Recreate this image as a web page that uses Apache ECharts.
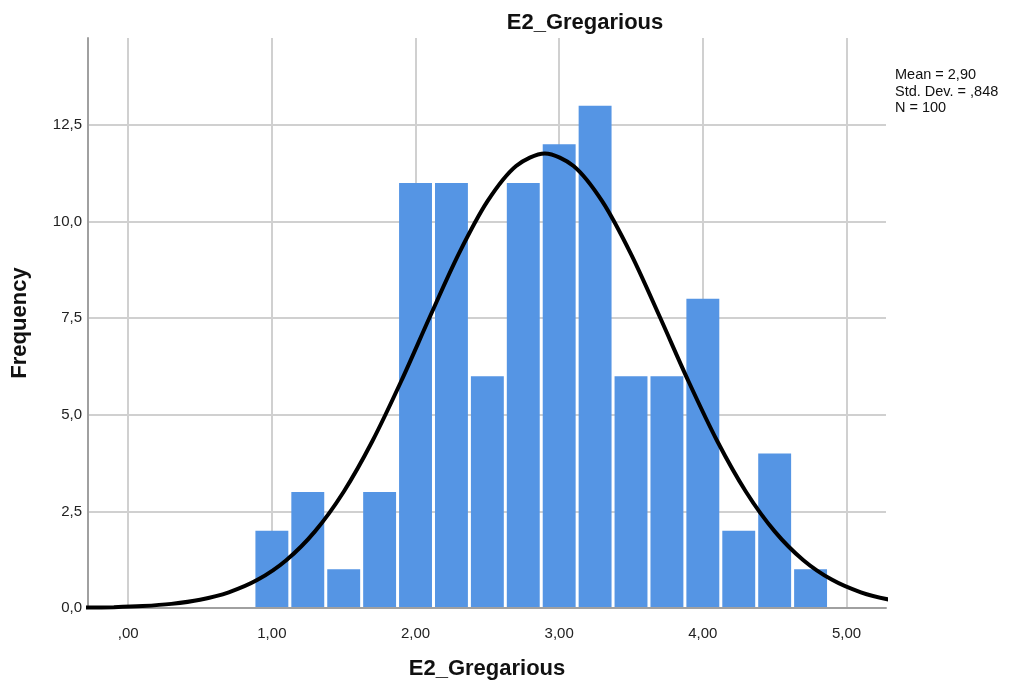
<!DOCTYPE html>
<html>
<head>
<meta charset="utf-8">
<script src="https://cdn.jsdelivr.net/npm/echarts@6/dist/echarts.min.js"></script>
<style>
  html, body { margin: 0; padding: 0; background: #fff; }
  #chart { width: 1010px; height: 685px; }
</style>
</head>
<body>
<div id="chart"></div>
<script>
  // histogram bins (width 0.25)
  const binStart = [0.875, 1.125, 1.375, 1.625, 1.875, 2.125, 2.375, 2.625, 2.875, 3.125, 3.375, 3.625, 3.875, 4.125, 4.375, 4.625];
  const binCounts = [2, 3, 1, 3, 11, 11, 6, 11, 12, 13, 6, 6, 8, 2, 4, 1];
  const binWidth = 0.25;

  // normal curve
  const curveX = [-0.3, -0.1, 0.1, 0.3, 0.5, 0.7, 0.9, 1.1, 1.3, 1.5, 1.7, 1.9, 2.1, 2.3, 2.5, 2.7, 2.9, 3.1, 3.3, 3.5, 3.7, 3.9, 4.1, 4.3, 4.5, 4.7, 4.9, 5.1, 5.3, 5.5];
  const curveY = [0.0095, 0.0225, 0.0505, 0.107, 0.214, 0.406, 0.728, 1.236, 1.983, 3.009, 4.321, 5.867, 7.536, 9.156, 10.52, 11.437, 11.76, 11.437, 10.52, 9.156, 7.536, 5.867, 4.321, 3.009, 1.983, 1.236, 0.728, 0.406, 0.214, 0.107];

  const statLines = ['Mean = 2,90', 'Std. Dev. = ,848', 'N = 100'];

  const chart = echarts.init(document.getElementById('chart'));
  const font = '"Liberation Sans", Arial, sans-serif';

  const option = {
    animation: false,
    textStyle: { fontFamily: font },
    title: {
      text: 'E2_Gregarious',
      left: 580,
      top: 7,
      textAlign: 'center',
      textStyle: { fontSize: 22, fontWeight: 'bold', color: '#111', fontFamily: font },
    },
    grid: { left: 88, right: 124, top: 38, bottom: 77 },
    xAxis: {
      type: 'value',
      min: -0.28,
      max: 5.275,
      minInterval: 1,
      maxInterval: 1,
      name: 'E2_Gregarious',
      nameLocation: 'middle',
      nameGap: 50,
      nameTextStyle: { fontSize: 22, fontWeight: 'bold', color: '#111', fontFamily: font },
      axisLine: { onZero: false, lineStyle: { color: '#a0a0a0', width: 2 } },
      axisTick: { show: false },
      axisLabel: {
        color: '#222',
        fontSize: 15,
        margin: 18,
        showMinLabel: false,
        showMaxLabel: false,
        formatter: (v) => {
          const s = v.toFixed(2).replace('.', ',');
          return s.startsWith('0,') ? s.slice(1) : s;
        },
      },
      splitLine: { show: true, showMinLine: false, showMaxLine: false, lineStyle: { color: '#d0d0d0', width: 2 } },
    },
    yAxis: {
      type: 'value',
      min: 0,
      max: 14.75,
      interval: 2.5,
      name: 'Frequency',
      nameLocation: 'middle',
      nameGap: 57,
      nameTextStyle: { fontSize: 22, fontWeight: 'bold', color: '#111', fontFamily: font },
      axisLine: { show: true, onZero: false, lineStyle: { color: '#a0a0a0', width: 2 } },
      axisTick: { show: false },
      axisLabel: {
        color: '#222',
        fontSize: 15,
        margin: 6,
        showMaxLabel: false,
        formatter: (v) => v.toFixed(1).replace('.', ','),
      },
      splitLine: { show: true, showMinLine: false, showMaxLine: false, lineStyle: { color: '#d0d0d0', width: 2 } },
    },
    graphic: [
      {
        type: 'text',
        left: 895,
        top: 67,
        style: {
          text: statLines.join('\n'),
          font: '14.5px ' + font,
          fill: '#111',
          lineHeight: 16.5,
        },
      },
    ],
    series: [
      {
        type: 'custom',
        data: binStart.map((s, i) => [s, s + binWidth, binCounts[i]]),
        encode: { x: [0, 1], y: 2 },
        renderItem: (params, api) => {
          const p0 = api.coord([api.value(0), api.value(2)]);
          const p1 = api.coord([api.value(1), 0]);
          return {
            type: 'rect',
            shape: { x: p0[0] + 1.5, y: p0[1], width: p1[0] - p0[0] - 3, height: p1[1] - p0[1] - 1 },
            style: { fill: '#5595e4' },
          };
        },
        z: 2,
      },
      {
        type: 'line',
        data: curveX.map((x, i) => [x, curveY[i]]),
        smooth: 0.3,
        symbol: 'none',
        lineStyle: { color: '#000', width: 4 },
        z: 3,
      },
    ],
  };
  chart.setOption(option);
</script>
</body>
</html>
